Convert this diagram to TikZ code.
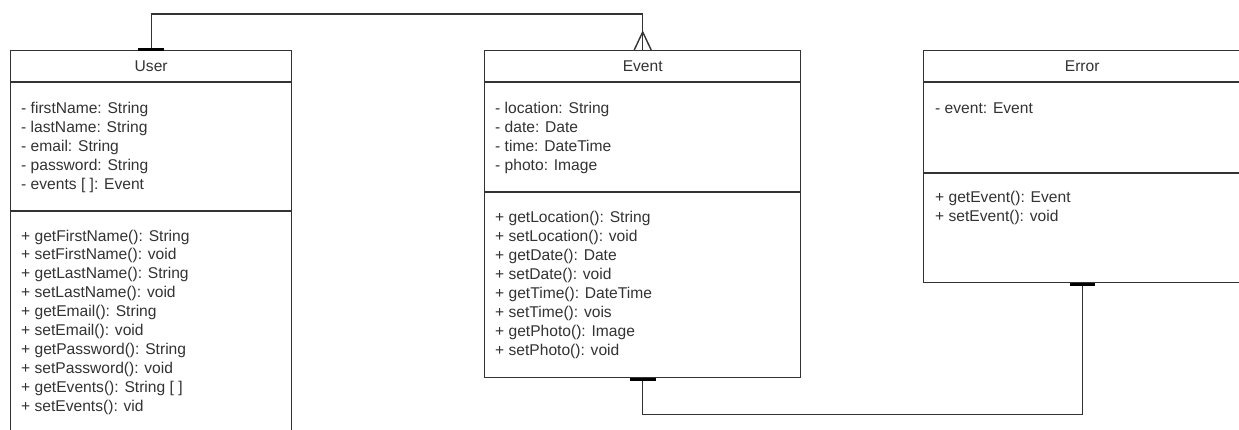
\documentclass[tikz,border=0pt]{standalone}
\usepackage{fontspec}
\setmainfont{Liberation Sans}
\usetikzlibrary{calc}
\definecolor{ink}{HTML}{333333}
\begin{document}
\begin{tikzpicture}[x=1pt,y=-1pt,
  classbox/.style={draw=ink, line width=1.4pt, inner sep=0pt, anchor=north west},
  sepline/.style={draw=ink, line width=1.4pt},
  title/.style={font=\fontsize{15.6}{19}\selectfont, text=ink, inner sep=0pt},
  member/.style={font=\fontsize{15.6}{19}\selectfont, text=ink, inner sep=0pt, anchor=base west},
  conn/.style={draw=ink, line width=1.4pt},
  barmark/.style={draw=black, line width=3pt}]
\useasboundingbox (0,0) rectangle (1239,429);
\clip (0,0) rectangle (1239,429);
\fill[white] (0,0) rectangle (1239,429);

% boxes
\node[classbox, minimum width=281pt, minimum height=420pt] (user) at (10,50) {};
\node[classbox, minimum width=316pt, minimum height=327pt] (event) at (484,50) {};
\node[classbox, minimum width=317pt, minimum height=232pt] (error) at (923,50) {};

% separators
\draw[sepline] (user.west |- 0,82) -- (user.east |- 0,82);
\draw[sepline] (user.west |- 0,211) -- (user.east |- 0,211);
\draw[sepline] (event.west |- 0,82) -- (event.east |- 0,82);
\draw[sepline] (event.west |- 0,192) -- (event.east |- 0,192);
\draw[sepline] (error.west |- 0,82) -- (error.east |- 0,82);
\draw[sepline] (error.west |- 0,173) -- (error.east |- 0,173);

% titles
\node[title] (userT) at (user.north |- 0,66) {User};
\node[title] (eventT) at (event.north |- 0,66) {Event};
\node[title] (errorT) at (error.north |- 0,66) {Error};

% User members
\foreach \t [count=\i] in {- firstName: String, - lastName: String, - email: String, - password: String, - events [ ]: Event}
  \node[member] (ua\i) at (21,{113+19*(\i-1)}) {\t};
\foreach \t [count=\i] in {+ getFirstName(): String, + setFirstName(): void, + getLastName(): String, + setLastName(): void, + getEmail(): String, + setEmail(): void, + getPassword(): String, + setPassword(): void, + getEvents(): String [ ], + setEvents(): vid}
  \node[member] (um\i) at (21,{241+18.95*(\i-1)}) {\t};

% Event members
\foreach \t [count=\i] in {- location: String, - date: Date, - time: DateTime, - photo: Image}
  \node[member] (ea\i) at (495,{113+19*(\i-1)}) {\t};
\foreach \t [count=\i] in {+ getLocation(): String, + setLocation(): void, + getDate(): Date, + setDate(): void, + getTime(): DateTime, + setTime(): vois, + getPhoto(): Image, + setPhoto(): void}
  \node[member] (em\i) at (495,{222+19*(\i-1)}) {\t};

% Error members
\node[member] (ra1) at (935,113.5) {- event: Event};
\node[member] (rm1) at (935,202) {+ getEvent(): Event};
\node[member] (rm2) at (935,221) {+ setEvent(): void};

% connectors
\draw[conn] (user.north) -- ++(0,-36) -| (event.north);
\draw[conn] (event.south) -- ++(0,36) -| (error.south);

% markers
\draw[barmark] ($(user.north)+(-13,-1)$) -- ($(user.north)+(13,-1)$);
\draw[conn] ($(event.north)+(-8.5,0)$) -- ($(event.north)+(0,-18)$) -- ($(event.north)+(8.5,0)$);
\draw[barmark] ($(event.south)+(-13,1)$) -- ($(event.south)+(13,1)$);
\draw[barmark] ($(error.south)+(-12.5,1)$) -- ($(error.south)+(12.5,1)$);
\end{tikzpicture}
\end{document}
